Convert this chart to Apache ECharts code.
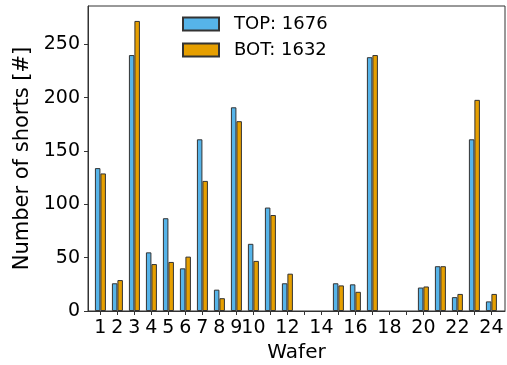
<!DOCTYPE html>
<html>
<head>
<meta charset="utf-8">
<script src="https://cdn.jsdelivr.net/npm/echarts@6/dist/echarts.min.js"></script>
<style>
  html, body { margin: 0; padding: 0; background: #fff; }
  #chart { width: 507px; height: 365px; }
</style>
</head>
<body>
<div id="chart"></div>
<script>
// Wafer numbers and short counts per side
const wafers = [1, 2, 3, 4, 5, 6, 7, 8, 9, 10, 11, 12, 13, 14, 15, 16, 17, 18, 19, 20, 21, 22, 23, 24];
const topShorts = [134, 26, 240, 55, 87, 40, 161, 20, 191, 63, 97, 26, 0, 0, 26, 25, 238, 0, 0, 22, 42, 13, 161, 9];
const botShorts = [129, 29, 272, 44, 46, 51, 122, 12, 178, 47, 90, 35, 0, 0, 24, 18, 240, 0, 0, 23, 42, 16, 198, 16];
const xTickLabels = [1, 2, 3, 4, 5, 6, 7, 8, 9, 10, 12, 14, 16, 18, 20, 22, 24];
const yTickLabels = [0, 50, 100, 150, 200, 250];

const sum = arr => arr.reduce((a, b) => a + b, 0);
const topName = 'TOP: ' + sum(topShorts);
const botName = 'BOT: ' + sum(botShorts);

const font = 'DejaVu Sans';
const edge = '#333333';

// empty wafers get no outline so nothing is drawn on the baseline
const barData = values => wafers.map((w, i) => ({
  value: [w, values[i]],
  itemStyle: values[i] === 0 ? { borderWidth: 0 } : undefined
}));

const chart = echarts.init(document.getElementById('chart'), null, { renderer: 'canvas' });
chart.setOption({
  animation: false,
  backgroundColor: '#ffffff',
  textStyle: { fontFamily: font, color: '#000' },
  grid: {
    left: 88, top: 6, right: 2, bottom: 54,
    outerBoundsMode: 'none',
    containLabel: false,
    show: true, borderColor: edge, borderWidth: 1, backgroundColor: 'transparent'
  },
  legend: {
    orient: 'vertical',
    left: 182, top: 15,
    padding: 0,
    itemWidth: 36, itemHeight: 13, itemGap: 8,
    icon: 'rect',
    textStyle: { fontFamily: font, fontSize: 18, color: '#000', padding: [0, 0, 0, 10] },
    data: [topName, botName]
  },
  xAxis: {
    type: 'value',
    min: 0.27, max: 24.8,
    name: 'Wafer',
    nameLocation: 'middle',
    nameGap: 31,
    nameTextStyle: { fontFamily: font, fontSize: 20, color: '#000' },
    axisLine: { show: true, lineStyle: { color: edge, width: 1 } },
    axisTick: { show: true, length: 4, lineStyle: { color: edge }, customValues: wafers },
    axisLabel: { fontFamily: font, fontSize: 19, color: '#000', margin: 8, customValues: xTickLabels },
    splitLine: { show: false }
  },
  yAxis: {
    type: 'value',
    min: 0, max: 286,
    name: 'Number of shorts [#]',
    nameLocation: 'middle',
    nameGap: 50,
    nameTextStyle: { fontFamily: font, fontSize: 21, color: '#000' },
    axisLine: { show: true, lineStyle: { color: edge, width: 1 } },
    axisTick: { show: true, length: 4, lineStyle: { color: edge }, customValues: yTickLabels },
    axisLabel: { fontFamily: font, fontSize: 19, color: '#000', margin: 8, customValues: yTickLabels },
    splitLine: { show: false }
  },
  series: [
    {
      name: topName,
      type: 'bar',
      barWidth: 5.5,
      barGap: '0%',
      itemStyle: { color: '#56B4E9', borderColor: edge, borderWidth: 1 },
      data: barData(topShorts)
    },
    {
      name: botName,
      type: 'bar',
      barWidth: 5.5,
      barGap: '0%',
      itemStyle: { color: '#E69F00', borderColor: edge, borderWidth: 1 },
      data: barData(botShorts)
    }
  ]
});
</script>
</body>
</html>
